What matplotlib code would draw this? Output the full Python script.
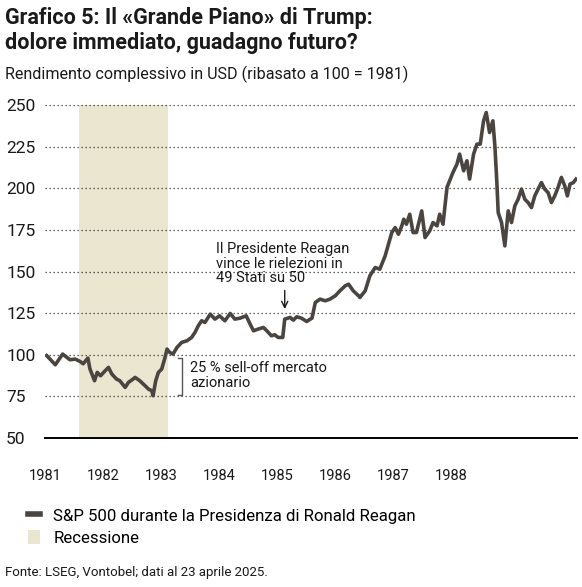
import numpy as np
import matplotlib
matplotlib.use('Agg')
import matplotlib.pyplot as plt
from matplotlib.lines import Line2D
from matplotlib.patches import Patch

plt.rcParams['font.family'] = ['Roboto', 'DejaVu Sans']

# S&P 500 total return, rebased 100 = Jan 1981
years = [1981.06, 1981.12, 1981.19, 1981.25, 1981.30, 1981.36, 1981.41, 1981.49, 1981.56, 1981.61,
         1981.68, 1981.71, 1981.78, 1981.82, 1981.87, 1981.94, 1981.99, 1982.04, 1982.11, 1982.16,
         1982.24, 1982.29, 1982.36, 1982.39, 1982.46, 1982.54, 1982.59, 1982.64, 1982.66, 1982.70,
         1982.74, 1982.79, 1982.84, 1982.87, 1982.91, 1982.96, 1983.02, 1983.09, 1983.17, 1983.24,
         1983.29, 1983.34, 1983.39, 1983.44, 1983.52, 1983.59, 1983.66, 1983.74, 1983.82, 1983.89,
         1983.97, 1984.06, 1984.12, 1984.17, 1984.24, 1984.32, 1984.37, 1984.44, 1984.49, 1984.54,
         1984.61, 1984.64, 1984.72, 1984.77, 1984.82, 1984.89, 1984.97, 1985.05, 1985.10, 1985.17,
         1985.25, 1985.32, 1985.40, 1985.47, 1985.55, 1985.60, 1985.67, 1985.75, 1985.77, 1985.85,
         1985.92, 1986.00, 1986.07, 1986.15, 1986.20, 1986.25, 1986.30, 1986.35, 1986.40, 1986.43,
         1986.47, 1986.52, 1986.57, 1986.62, 1986.70, 1986.75, 1986.82, 1986.87, 1986.93, 1986.97,
         1987.02, 1987.08, 1987.13, 1987.17, 1987.23, 1987.27, 1987.33, 1987.38, 1987.42, 1987.48,
         1987.53, 1987.58, 1987.63, 1987.67, 1987.72, 1987.77, 1987.80, 1987.83, 1987.85, 1987.90,
         1987.95, 1988.00, 1988.05, 1988.10, 1988.15, 1988.20, 1988.25, 1988.30, 1988.35, 1988.40,
         1988.45, 1988.50, 1988.55, 1988.60, 1988.65, 1988.70, 1988.75, 1988.80, 1988.85, 1988.89,
         1988.93, 1988.98, 1989.02]
sp500 = [99.5, 97.0, 94.0, 97.5, 100.4, 98.5, 97.0, 97.4, 96.0, 94.6,
         98.0, 91.6, 84.4, 89.4, 87.4, 90.4, 92.4, 88.4, 85.4, 84.4,
         80.4, 83.4, 85.4, 86.4, 84.4, 81.4, 79.4, 78.4, 75.4, 84.4,
         89.4, 91.4, 98.4, 103.4, 101.4, 100.4, 104.4, 107.4, 108.4, 110.4,
         113.4, 117.4, 120.4, 119.4, 124.4, 121.4, 123.4, 120.4, 124.8, 121.4,
         122.0, 123.4, 118.4, 114.4, 115.4, 116.4, 114.4, 111.4, 112.0, 110.4,
         110.4, 121.4, 122.4, 120.8, 122.8, 122.0, 120.0, 122.0, 131.4, 133.4,
         132.4, 133.4, 135.4, 138.4, 141.4, 142.4, 138.4, 135.4, 134.4, 138.4,
         147.4, 152.4, 151.4, 159.4, 166.4, 173.4, 176.4, 172.4, 177.4, 181.4,
         178.4, 184.4, 173.4, 173.4, 186.4, 170.4, 174.4, 179.4, 177.4, 184.4,
         178.4, 200.5, 205.5, 209.5, 214.5, 220.5, 210.5, 216.5, 205.5, 220.5,
         226.5, 226.5, 240.5, 245.5, 233.5, 240.5, 225.5, 203.4, 185.4, 179.4,
         165.4, 186.4, 179.4, 189.4, 193.4, 199.5, 193.4, 191.4, 188.4, 195.4,
         199.5, 203.4, 199.5, 197.4, 191.4, 195.4, 200.5, 206.5, 201.5, 195.4,
         202.5, 203.4, 205.5]

recession = (1981.54, 1982.88)
tick_labels = ['1981', '1982', '1983', '1984', '1985', '1986', '1987', '1988']

line_col = '#4a4540'
rec_col = '#ebe6d0'
text_col = '#1a1a1a'

fig = plt.figure(figsize=(5.82, 5.87), dpi=100)
ax = fig.add_axes([45 / 582, 1 - 438 / 587, 532 / 582, 333 / 587])

ax.axvspan(recession[0], recession[1], color=rec_col, lw=0, zorder=0)
ax.plot(years, sp500, color=line_col, lw=2.6, solid_joinstyle='round', zorder=3)

ax.set_xlim(1981.035, 1989.035)
ax.set_ylim(50, 250)
ax.set_yticks(np.arange(50, 251, 25))
for v in np.arange(75, 251, 25):
    ax.axhline(v, color='#333333', lw=0.9, ls=(0, (1, 2.2)), zorder=1)

# etichette degli anni: nel grafico originale sono equidistanti ma non allineate agli anni
ax.set_xticks(1981.035 + np.arange(len(tick_labels)) * 0.872)
ax.set_xticklabels(tick_labels)

for s in ['top', 'right', 'left']:
    ax.spines[s].set_visible(False)
ax.spines['bottom'].set_color('black')
ax.spines['bottom'].set_linewidth(1.4)
ax.tick_params(axis='y', length=0, pad=28, labelsize=12.5, colors=text_col)
ax.tick_params(axis='x', length=0, pad=22, labelsize=10.5, colors=text_col)
plt.setp(ax.get_yticklabels(), ha='left')

# annotazioni
ax.text(1983.61, 154.7, 'Il Presidente Reagan\nvince le rielezioni in\n49 Stati su 50',
        fontsize=10.5, va='center', ha='left', linespacing=1.05, color=text_col)
ax.annotate('', xy=(1984.64, 127.4), xytext=(1984.64, 138.6),
            arrowprops=dict(arrowstyle='->,head_length=0.45,head_width=0.22', color=text_col,
                            lw=1, shrinkA=0, shrinkB=0))
ax.plot([1983.035, 1983.095, 1983.095, 1983.035], [98, 98, 76, 76], color='#555555', lw=1)
ax.text(1983.215, 87.4, '25 % sell-off mercato\nazionario', fontsize=10.5, va='center', ha='left',
        linespacing=1.05, color=text_col)

fig.text(5 / 582, 1 - 7 / 587, 'Grafico 5: Il «Grande Piano» di Trump:\ndolore immediato, guadagno futuro?',
         fontsize=15.5, fontweight='bold', va='top', ha='left', linespacing=1.2, color=text_col)
fig.text(5 / 582, 1 - 79 / 587, 'Rendimento complessivo in USD (ribasato a 100 = 1981)',
         fontsize=11.6, va='baseline', ha='left', color=text_col)

handles = [Line2D([0], [0], color=line_col, lw=4),
           Patch(facecolor=rec_col, edgecolor='none')]
fig.legend(handles, ['S&P 500 durante la Presidenza di Ronald Reagan', 'Recessione'],
           loc='upper left', bbox_to_anchor=(28 / 582, 1 - 508 / 587), frameon=False,
           fontsize=12.1, handlelength=0.72, handleheight=0.85, handletextpad=0.78,
           labelspacing=0.4, borderpad=0, borderaxespad=0)

fig.text(5 / 582, 1 - 576 / 587, 'Fonte: LSEG, Vontobel; dati al 23 aprile 2025.',
         fontsize=9.5, va='baseline', ha='left', color=text_col)

fig.savefig('out.png', dpi=100)
